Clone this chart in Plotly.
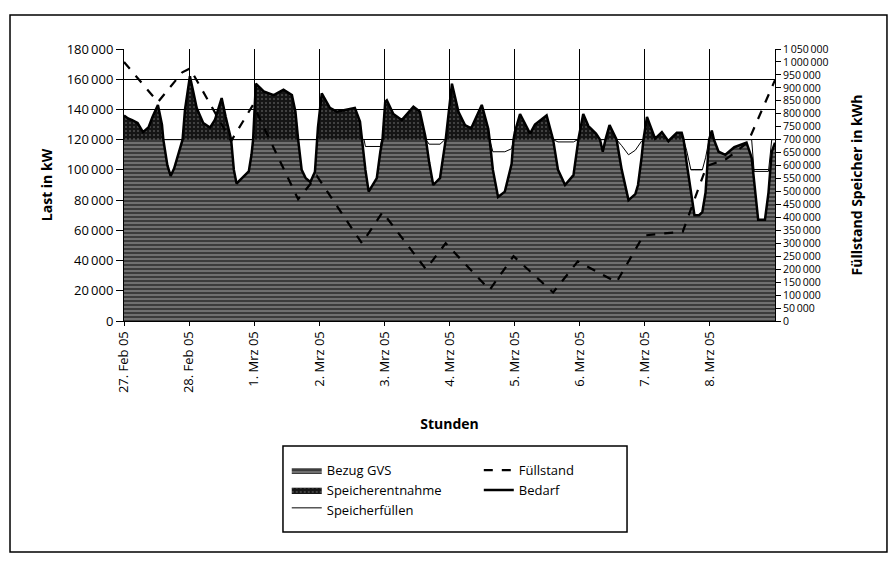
import numpy as np
import pandas as pd
import plotly.graph_objects as go

# ---------------- data ----------------
# hours after 27 Feb 2005 00:00
hours = [0, 1.5, 3, 5, 7, 9, 10.5, 12.5, 14, 14.5, 16, 17.2, 18.5, 20, 21.6, 22.5, 24.3,
         25.5, 26.8, 29.2, 31.7, 33.5, 36, 37.5, 39, 39.5, 40.5, 41.5, 43.5, 46, 47, 47.6, 48.6,
         51.5, 55.2, 58.8, 61.9, 63.2, 64.2, 65.5, 67, 68.7, 70.4, 71.1, 71.5, 72.9,
         74, 75.9, 78.4, 82, 85.1, 87, 87.7, 88.5, 89, 90.2, 93.2, 94.5, 95, 95.3, 96.3,
         96.9, 99.3, 102.4, 106.7, 109.1, 111, 111.3, 112.5, 114, 116.5, 118.3, 118.6, 120.9,
         123.3, 125.7, 128, 131.9, 134.3, 134.8, 136, 137.9, 140.4, 142.9, 143.6, 144.1, 146,
         149.7, 151.5, 155.8, 158.2, 160, 162.6, 165.7, 167.3, 167.6, 169.3,
         171.2, 174, 175.5, 176.5, 177.5, 179, 181.6, 183.5, 186, 188.5, 189.5, 190.8, 191.5, 192.8,
         194.6, 195.8, 198.3, 200.3, 200.7, 201.2, 203.8, 205.6, 206.3, 207.4, 209, 210.3, 212, 213.2,
         214.4, 215.5, 215.7, 216.7,
         217.5, 219.2, 221.7, 225, 229.5, 231.4, 232.3, 233.8, 236.3, 237.6, 238.8, 240]

bedarf = [136000, 134000, 133000, 131000, 125000, 128000, 135000, 143000, 130000, 120000, 103000, 96000, 101000, 110000, 120000, 140000, 162000,
          152000, 141000, 131000, 128000, 133000, 147500, 135000, 123000, 120000, 100000, 91000, 94500, 99000, 110000, 120000, 157000,
          152000, 149500, 153000, 149500, 138500, 120000, 100000, 94500, 92000, 98800, 120000, 128000, 150700,
          147000, 141000, 138500, 139600, 141000, 132000, 120000, 108000, 100000, 85600, 94600, 112000, 116000, 120000, 145000,
          146000, 137000, 133000, 141800, 138500, 123000, 120000, 105000, 90000, 94600, 116000, 120000, 157000,
          138500, 129700, 127500, 143000, 127000, 120000, 100000, 82000, 85600, 104000, 120000, 125000, 137000,
          124000, 130000, 136000, 120000, 100000, 90000, 96500, 120000, 121000, 137000,
          129000, 124000, 120000, 112000, 120000, 129700, 120000, 100000, 80000, 84000, 90000, 108000, 120000, 135000,
          127000, 120700, 125000, 120000, 119000, 120000, 124600, 124600, 120000, 105000, 85000, 70000, 70000, 72000,
          85000, 119000, 120000, 126000,
          120000, 112000, 110000, 115000, 118000, 108000, 92000, 67000, 67000, 85000, 112000, 118000]

netzbezug = [120000] * 53 + [120000, 115500, 115500, 115500, 115500, 120000, 120000, 120000,
             120000, 120000, 120000, 120000, 120000, 120000, 120000, 117000, 117000, 117000, 120000, 120000, 120000,
             120000, 120000, 120000, 120000, 120000, 120000, 112000, 112000, 112000, 114000, 120000, 120000, 120000,
             120000, 120000, 120000, 120000, 118500, 118500, 118500, 120000, 120000, 120000,
             120000, 120000, 120000, 120000, 120000, 120000, 120000, 116000, 110000, 113000, 116000, 119000, 120000, 120000,
             120000, 120000, 120000, 120000, 120000, 120000, 120000, 120000, 120000, 113000, 100000, 100000, 100000, 100000,
             108000, 120000, 120000, 120000,
             120000, 120000, 120000, 120000, 120000, 120000, 99000, 99000, 99000, 99000, 120000, 120000]

fuell_hours = [0, 12.5, 21.5, 24.3, 39.5, 47.6, 64.2, 71.1, 87.7, 95.3, 111.3, 118.6, 134.8, 143.6,
               158.2, 167.3, 181.6, 191.5, 206.0, 214.8, 222, 230, 240]
fuellstand = [1000000, 845000, 960000, 975000, 695000, 835000, 470000, 560000, 300000, 420000, 200000, 300000,
              120000, 250000, 110000, 230000, 150000, 330000, 345000, 598000, 625000, 690000, 930000]

day_labels = ["27. Feb 05", "28. Feb 05", "1. Mrz 05", "2. Mrz 05", "3. Mrz 05", "4. Mrz 05",
              "5. Mrz 05", "6. Mrz 05", "7. Mrz 05", "8. Mrz 05"]
left_ticks = list(range(0, 180001, 20000))
right_ticks = list(range(0, 1050001, 50000))

# ---------------- build ----------------
start = pd.Timestamp("2005-02-27")
t = start + pd.to_timedelta(hours, unit="h")
tf = start + pd.to_timedelta(fuell_hours, unit="h")
bed = np.array(bedarf, dtype=float)
netz = np.array(netzbezug, dtype=float)
gvs = np.minimum(bed, netz)

FONT = "Open Sans"
fig = go.Figure()

fig.add_trace(go.Scatter(x=t, y=netz, name="Speicherfüllen", mode="lines", fill="tozeroy",
                         fillcolor="white", line=dict(color="black", width=1),
                         legend="legend", legendrank=3))
fig.add_trace(go.Scatter(x=t, y=bed, name="Speicherentnahme", mode="lines", fill="tozeroy",
                         fillcolor="#111111", line=dict(color="#111111", width=0.5),
                         fillpattern=dict(shape=".", bgcolor="#151515", fgcolor="#8a8a8a", size=4, solidity=0.2),
                         legend="legend", legendrank=2))
fig.add_trace(go.Scatter(x=t, y=gvs, name="Bezug GVS", mode="lines", fill="tozeroy",
                         fillcolor="#555555", line=dict(color="#555555", width=0),
                         fillpattern=dict(shape="-", bgcolor="#3c3c3c", fgcolor="#d0d0d0", size=4, solidity=0.35),
                         legend="legend", legendrank=1))
fig.add_trace(go.Scatter(x=t, y=bed, name="Bedarf", mode="lines",
                         line=dict(color="black", width=2.5),
                         legend="legend2", legendrank=2))
fig.add_trace(go.Scatter(x=tf, y=fuellstand, name="Füllstand", mode="lines", yaxis="y2",
                         line=dict(color="black", width=2.2, dash="dash"),
                         legend="legend2", legendrank=1))

def fmt(v):
    return f"{v:,}".replace(",", "\u2009")

tickdates = [start + pd.Timedelta(days=i) for i in range(10)]

# the page body has an 8px margin, so the figure is 880x550 and sits at (8, 8)
fig.update_layout(
    width=880, height=550, autosize=False,
    margin=dict(l=116, r=113, t=41, b=237),
    paper_bgcolor="white", plot_bgcolor="white",
    font=dict(family=FONT, size=12, color="black"),
    xaxis=dict(type="date", range=[start, start + pd.Timedelta(days=10)],
               tickvals=tickdates, ticktext=day_labels, tickangle=-90,
               showgrid=True, gridcolor="black", gridwidth=1,
               ticks="outside", ticklen=4, tickcolor="black",
               showline=True, linecolor="black", linewidth=1, mirror=False,
               title=dict(text="<b>Stunden</b>", font=dict(size=14), standoff=27),
               tickfont=dict(size=13)),
    yaxis=dict(range=[0, 180000], tickvals=left_ticks, ticktext=[fmt(v) for v in left_ticks],
               showgrid=True, gridcolor="black", gridwidth=1, zeroline=False,
               ticks="outside", ticklen=7, tickcolor="black",
               showline=True, linecolor="black", linewidth=1,
               title=dict(text="<b>Last in kW</b>", font=dict(size=14), standoff=10),
               tickfont=dict(size=13)),
    yaxis2=dict(range=[0, 1050000], tickvals=right_ticks, ticktext=[fmt(v) for v in right_ticks],
                overlaying="y", side="right", showgrid=False, zeroline=False,
                ticks="outside", ticklen=5, tickcolor="black",
                showline=True, linecolor="black", linewidth=1,
                title=dict(text="<b>Füllstand Speicher in kWh</b>", font=dict(size=14), standoff=24),
                tickfont=dict(size=10.5)),
    legend=dict(x=0.25, y=-0.493, xanchor="left", yanchor="top", bgcolor="rgba(0,0,0,0)",
                font=dict(size=13), tracegroupgap=0, itemwidth=30, traceorder="normal"),
    legend2=dict(x=0.545, y=-0.493, xanchor="left", yanchor="top", bgcolor="rgba(0,0,0,0)",
                 font=dict(size=13), tracegroupgap=0, itemwidth=30, traceorder="normal"),
    shapes=[
        dict(type="rect", xref="paper", yref="paper", x0=0.2442, x1=0.7727, y0=-0.7757, y1=-0.4596,
             line=dict(color="black", width=1.5), fillcolor="rgba(0,0,0,0)"),
        dict(type="rect", xref="paper", yref="paper", x0=-0.1751, x1=1.172, y0=-0.849, y1=1.125,
             line=dict(color="black", width=1.5), fillcolor="rgba(0,0,0,0)"),
    ],
    showlegend=True,
)

fig.write_html("out.html")
